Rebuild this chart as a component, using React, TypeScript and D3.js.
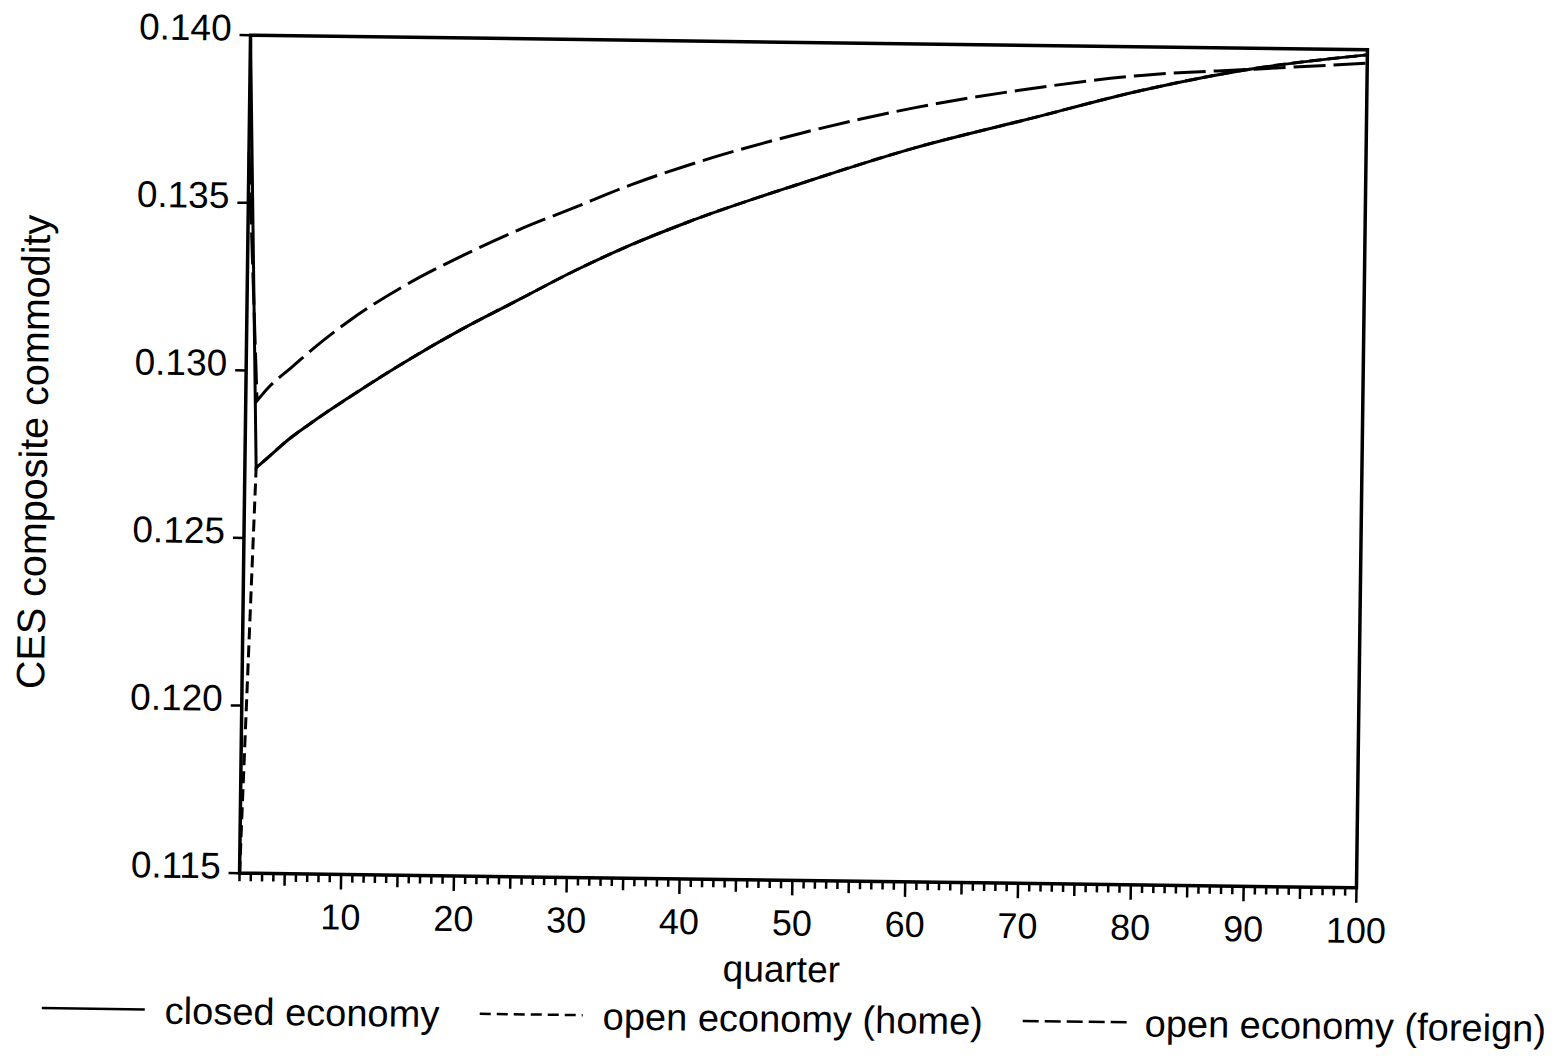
import React from "react";
import * as d3 from "d3";

const quarters = [1, 2, 3, 5, 7, 10, 15, 20, 25, 30, 35, 40, 50, 60, 70, 80, 90, 100];

const closedEconomy = [
  0.14, 0.1271, 0.1274, 0.128, 0.1285, 0.1292, 0.1303, 0.1313, 0.1322, 0.1331,
  0.1339, 0.1346, 0.1358, 0.1369, 0.1378, 0.1387, 0.1394, 0.13985,
];
const openHome = [
  0.115, 0.1271, 0.1274, 0.128, 0.1285, 0.1292, 0.1303, 0.1313, 0.1322, 0.1331,
  0.1339, 0.1346, 0.1358, 0.1369, 0.1378, 0.1387, 0.1394, 0.13985,
];
const openForeign = [
  0.1365, 0.1291, 0.1295, 0.1301, 0.1307, 0.1315, 0.1326, 0.1335, 0.1343, 0.135,
  0.1357, 0.1363, 0.1373, 0.1381, 0.1387, 0.13915, 0.13938, 0.1396,
];

const yTicks = [0.115, 0.12, 0.125, 0.13, 0.135, 0.14];
const xLabels = [10, 20, 30, 40, 50, 60, 70, 80, 90, 100];

const seriesNames = ["closed economy", "open economy (home)", "open economy (foreign)"];

const FONT = "'Liberation Sans', Arial, Helvetica, sans-serif";

const App: React.FC = () => {
  const width = 1565;
  const height = 1056;
  const left = 245;
  const right = 1362;
  const top = 42.5;
  const bottom = 880.5;

  const x = d3.scaleLinear().domain([1, 100]).range([left, right]);
  const y = d3.scaleLinear().domain([0.115, 0.14]).range([bottom, top]);

  const smooth = d3
    .line<[number, number]>()
    .x((d) => x(d[0]))
    .y((d) => y(d[1]))
    .curve(d3.curveMonotoneX);

  // straight jump from quarter 1 to 2, then a smooth recovery path
  const makePath = (vals: number[]) => {
    const pts = quarters.map((q, i) => [q, vals[i]] as [number, number]);
    const jump = `M${x(pts[0][0])},${y(pts[0][1])}`;
    const rest = smooth(pts.slice(1)) || "";
    return jump + rest.replace(/^M/, "L");
  };

  const series = [
    { name: seriesNames[0], vals: closedEconomy, dash: "none", legendDash: "none" },
    { name: seriesNames[1], vals: openHome, dash: "12,6", legendDash: "11,6" },
    { name: seriesNames[2], vals: openForeign, dash: "32,8", legendDash: "16,6" },
  ];

  const minorTicks = d3.range(1, 101);

  const legendItems = [
    { x1: 49, x2: 152, tx: 172 },
    { x1: 487, x2: 590, tx: 610 },
    { x1: 1030, x2: 1137, tx: 1152 },
  ];

  return (
    <svg
      width={width}
      height={height}
      style={{ position: "absolute", left: 0, top: 0, background: "#fff" }}
      fontFamily={FONT}
    >
      <rect width={width} height={height} fill="#fff" />
      <g transform={`rotate(0.75, 803.5, 461.5)`}>
        {/* data lines */}
        {series.map((s) => (
          <path
            key={s.name}
            d={makePath(s.vals)}
            fill="none"
            stroke="#000"
            strokeWidth={3}
            strokeDasharray={s.dash}
          />
        ))}

        {/* frame */}
        <rect
          x={left}
          y={top}
          width={right - left}
          height={bottom - top}
          fill="none"
          stroke="#000"
          strokeWidth={3.5}
        />

        {/* y axis */}
        {yTicks.map((t) => (
          <g key={t}>
            <line x1={left - 11} x2={left} y1={y(t)} y2={y(t)} stroke="#000" strokeWidth={2.5} />
            <text
              x={left - 19}
              y={y(t) - 7}
              textAnchor="end"
              dominantBaseline="central"
              fontSize={37}
              fill="#000"
            >
              {t.toFixed(3)}
            </text>
          </g>
        ))}

        {/* x axis ticks */}
        {minorTicks.map((t) => {
          const len = t % 10 === 0 ? 15 : t % 5 === 0 ? 12 : 8;
          return (
            <line
              key={t}
              x1={x(t)}
              x2={x(t)}
              y1={bottom}
              y2={bottom + len}
              stroke="#000"
              strokeWidth={2.5}
            />
          );
        })}
        {xLabels.map((t) => (
          <text key={t} x={x(t)} y={bottom + 55} textAnchor="middle" fontSize={36} fill="#000">
            {t}
          </text>
        ))}

        {/* axis titles */}
        <text x={788} y={982} textAnchor="middle" fontSize={37} fill="#000">
          quarter
        </text>
        <text
          transform="translate(47, 462) rotate(-90)"
          textAnchor="middle"
          fontSize={39.5}
          fill="#000"
        >
          CES composite commodity
        </text>

        {/* legend */}
        {series.map((s, i) => (
          <g key={s.name}>
            <line
              x1={legendItems[i].x1}
              x2={legendItems[i].x2}
              y1={1018}
              y2={1018}
              stroke="#000"
              strokeWidth={2.5}
              strokeDasharray={s.legendDash}
            />
            <text x={legendItems[i].tx} y={1032} fontSize={38} fill="#000">
              {s.name}
            </text>
          </g>
        ))}
      </g>
    </svg>
  );
};

export default App;
